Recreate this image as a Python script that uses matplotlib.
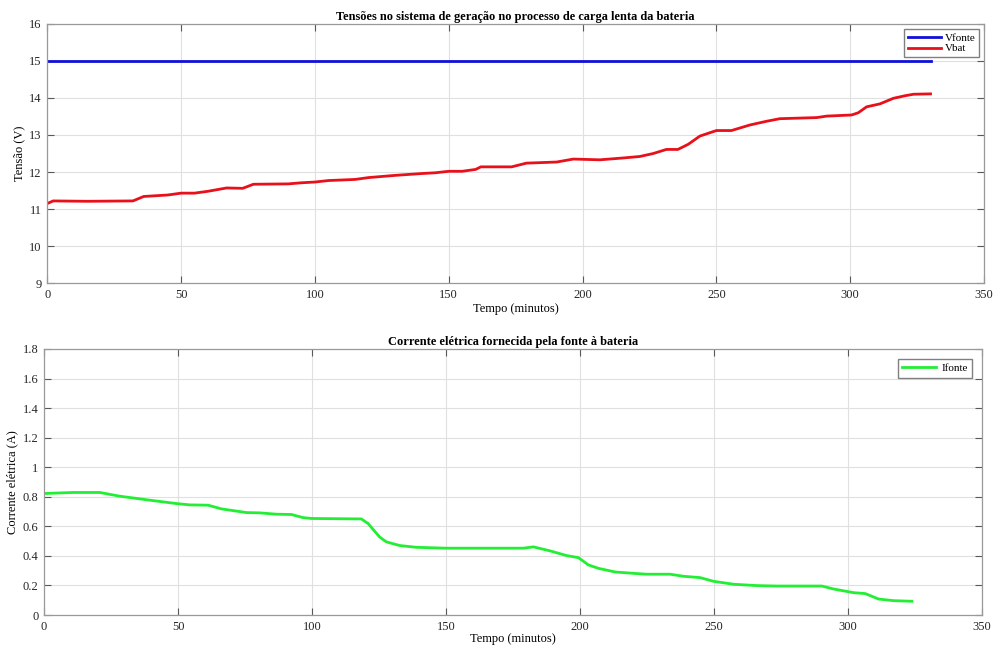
import matplotlib.pyplot as plt

plt.rcParams['font.family'] = ['Liberation Serif', 'DejaVu Serif']

# tempo (minutos) e tensões
t_bat = [0, 2.2, 15, 32, 36, 45, 50, 55, 60, 67, 73, 77, 90, 95, 100, 105, 115, 120,
         130, 140, 145, 150, 155, 160, 162, 173.5, 179, 190.3, 196.5, 206.5, 215.2,
         221.4, 226.4, 231.3, 235.6, 239.5, 243.8, 250, 255.6, 262.5, 268.7, 273.7,
         287.5, 291.2, 300.5, 303, 306.1, 311.1, 316.1, 320.5, 323.6, 330]
v_bat = [11.15, 11.22, 11.21, 11.22, 11.34, 11.38, 11.43, 11.43, 11.48, 11.57, 11.56,
         11.67, 11.68, 11.71, 11.73, 11.77, 11.80, 11.85, 11.91, 11.96, 11.98, 12.02,
         12.02, 12.07, 12.14, 12.14, 12.24, 12.27, 12.35, 12.33, 12.38, 12.42, 12.50,
         12.61, 12.61, 12.75, 12.97, 13.12, 13.12, 13.27, 13.37, 13.44, 13.47, 13.51,
         13.54, 13.60, 13.76, 13.84, 13.99, 14.06, 14.10, 14.11]
t_fonte = [0, 330]
v_fonte = [15, 15]

# corrente da fonte
t_i = [0, 10.8, 20.8, 28.2, 39.4, 49.4, 54.4, 61.2, 66.2, 75.5, 80.5, 86.7, 92.3, 96.6,
       99.8, 118.4, 120.9, 125.2, 127.7, 132.7, 138.9, 150.1, 170, 178.8, 182.6, 188.8,
       195, 199.4, 203.1, 206.8, 213.1, 219.9, 224.9, 233.6, 238.6, 244.8, 249.8, 257.3,
       266, 273.4, 290.2, 294.6, 302.1, 306.4, 311.4, 317, 323.8]
i_fonte = [0.822, 0.829, 0.829, 0.804, 0.777, 0.754, 0.745, 0.743, 0.718, 0.693, 0.691,
           0.682, 0.680, 0.659, 0.653, 0.650, 0.619, 0.528, 0.495, 0.470, 0.458, 0.452,
           0.452, 0.452, 0.461, 0.434, 0.402, 0.388, 0.339, 0.316, 0.291, 0.282, 0.276,
           0.276, 0.262, 0.253, 0.228, 0.208, 0.199, 0.196, 0.196, 0.176, 0.151, 0.145,
           0.108, 0.097, 0.093]


def style_axes(ax):
    ax.grid(True, color='0.88', linewidth=0.8)
    ax.set_axisbelow(True)
    ax.tick_params(direction='in', top=True, right=True, length=5, width=0.8,
                   color='0.35', labelsize=9, labelcolor='0.15', pad=4)
    for s in ax.spines.values():
        s.set_color('0.6')
        s.set_linewidth(0.9)


fig = plt.figure(figsize=(9.94, 6.45), dpi=100)

ax1 = fig.add_axes([0.0476, 0.561, 0.9424, 0.402])
ax1.plot(t_fonte, v_fonte, color='#1010d8', linewidth=2, label='Vfonte')
ax1.plot(t_bat, v_bat, color='#e8101a', linewidth=2, label='Vbat')
ax1.set_xlim(0, 350)
ax1.set_ylim(9, 16)
ax1.set_title('Tensões no sistema de geração no processo de carga lenta da bateria',
              fontsize=8.9, fontweight='bold', pad=3)
ax1.set_xlabel('Tempo (minutos)', fontsize=9, labelpad=1.5)
ax1.set_ylabel('Tensão (V)', fontsize=9, labelpad=3)
style_axes(ax1)
ax1.legend(loc='upper right', fontsize=8, fancybox=False, edgecolor='0.5',
           framealpha=1, handlelength=3, borderpad=0.3, labelspacing=0.1,
           handletextpad=0.3, borderaxespad=0.5)

ax2 = fig.add_axes([0.0443, 0.0465, 0.9437, 0.4125])
ax2.plot(t_i, i_fonte, color='#22ee33', linewidth=2, label='Ifonte')
ax2.set_xlim(0, 350)
ax2.set_ylim(0, 1.8)
ax2.set_yticks([0, 0.2, 0.4, 0.6, 0.8, 1, 1.2, 1.4, 1.6, 1.8])
ax2.set_yticklabels(['0', '0.2', '0.4', '0.6', '0.8', '1', '1.2', '1.4', '1.6', '1.8'])
ax2.set_title('Corrente elétrica fornecida pela fonte à bateria',
              fontsize=8.9, fontweight='bold', pad=3)
ax2.set_xlabel('Tempo (minutos)', fontsize=9, labelpad=0)
ax2.set_ylabel('Corrente elétrica (A)', fontsize=9, labelpad=3)
style_axes(ax2)
ax2.legend(loc='upper right', fontsize=8, fancybox=False, edgecolor='0.5',
           framealpha=1, handlelength=3, borderpad=0.4, handletextpad=0.5,
           borderaxespad=0.9)

fig.savefig('out.png', dpi=100)
